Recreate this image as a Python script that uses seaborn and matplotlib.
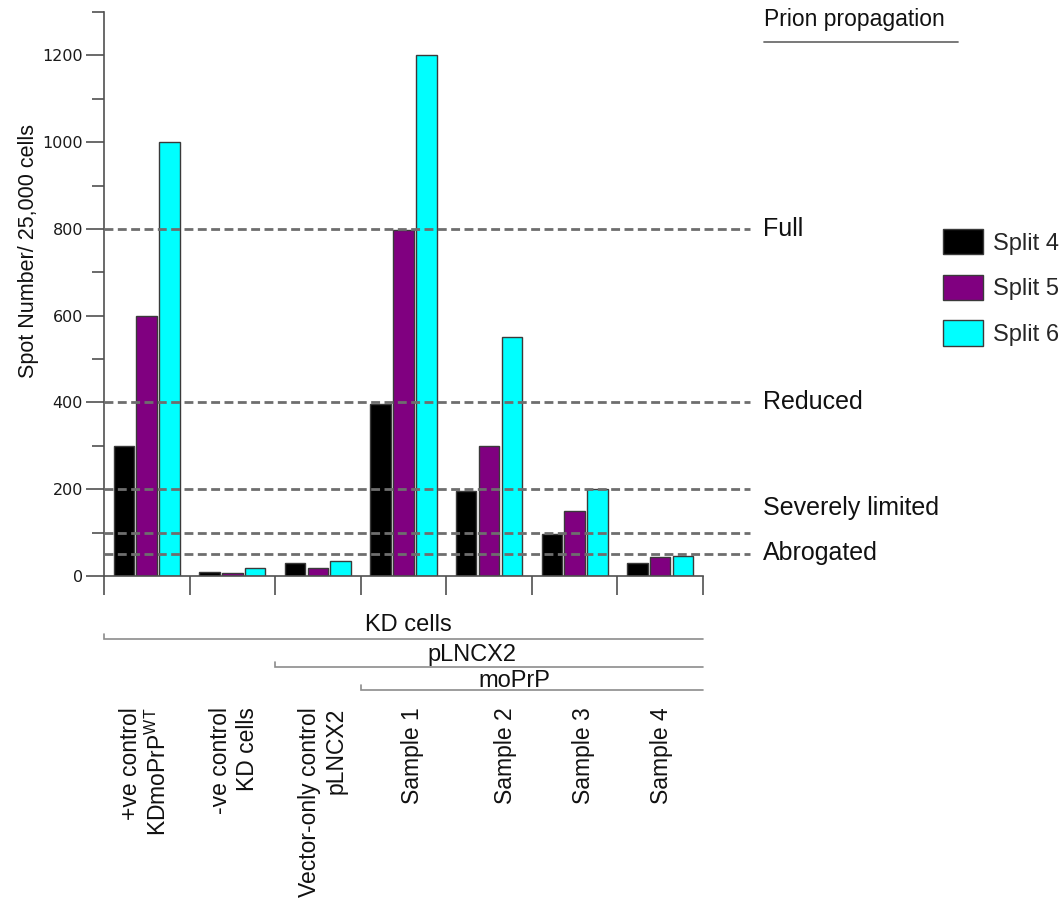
import numpy as np
import pandas as pd
import matplotlib
matplotlib.use("Agg")
import matplotlib.pyplot as plt
from matplotlib.ticker import MultipleLocator
from matplotlib.transforms import blended_transform_factory
import seaborn as sns

# ---- data -------------------------------------------------------------
groups = [
    "+ve control\nKDmoPrP$^{\\mathrm{WT}}$",
    "-ve control\nKD cells",
    "Vector-only control\npLNCX2",
    "Sample 1",
    "Sample 2",
    "Sample 3",
    "Sample 4",
]
splits = ["Split 4", "Split 5", "Split 6"]
split4 = [300, 9, 29, 397, 196, 96, 29]
split5 = [600, 6, 18, 797, 300, 150, 45]
split6 = [1000, 19, 34, 1200, 550, 200, 47]

levels = [800, 400, 200, 100, 50]
level_names = ["Full", "Reduced", "Severely limited", "Abrogated"]
level_label_y = [800, 402, 157, 52]

brackets = ["KD cells", "pLNCX2", "moPrP"]
bracket_start = [0, 2, 3]          # first group covered by each bracket

colors = ["#000000", "#800080", "#00FFFF"]

df = pd.DataFrame({
    "group": np.repeat(groups, 3),
    "split": splits * len(groups),
    "spots": np.ravel(np.column_stack([split4, split5, split6])),
})

# ---- style ------------------------------------------------------------
sns.set_theme(style="ticks")
plt.rcParams["font.family"] = ["Liberation Sans", "DejaVu Sans"]
plt.rcParams["mathtext.fontset"] = "custom"
plt.rcParams["mathtext.rm"] = "Liberation Sans"
plt.rcParams["mathtext.it"] = "Liberation Sans:italic"

axis_col = "#505050"
dash_col = "#6e6e6e"
brk_col = "#8c8c8c"

fig = plt.figure(figsize=(10.64, 9.06), dpi=100)
ax = fig.add_axes([0.0977, 0.3642, 0.563, 0.6226])

sns.barplot(data=df, x="group", y="spots", hue="split", order=groups,
            hue_order=splits, palette=colors, width=0.8, gap=0.1,
            edgecolor="#3a3a3a", linewidth=1.0, saturation=1, ax=ax,
            zorder=2)

ax.set_xlim(-0.5, len(groups) - 0.5)
ax.set_ylim(0, 1300)

# y axis ticks
ax.yaxis.set_major_locator(MultipleLocator(200))
ax.yaxis.set_minor_locator(MultipleLocator(100))
ax.tick_params(axis="y", which="major", length=13, width=1.2, color=axis_col,
               pad=2, labelsize=11.5, labelcolor="#1a1a1a",
               labelfontfamily="DejaVu Sans")
ax.tick_params(axis="y", which="minor", length=8.5, width=1.2, color=axis_col)

# x axis: ticks at group boundaries, labels drawn separately
ax.set_xticks(np.arange(-0.5, len(groups), 1.0))
ax.set_xticklabels([])
ax.tick_params(axis="x", which="major", length=13.5, width=1.2, color=axis_col)
ax.set_xlabel("")

sns.despine(ax=ax)
for s in ("left", "bottom"):
    ax.spines[s].set_color(axis_col)
    ax.spines[s].set_linewidth(1.2)

ax.set_ylabel("Spot Number/ 25,000 cells", fontsize=15.5, color="#111111")
ax.yaxis.set_label_coords(-0.108, 0.576)

# propagation thresholds
for lv in levels:
    ax.axhline(lv, xmin=0, xmax=1.0785, color=dash_col, lw=2,
               linestyle=(0, (3.2, 1.6)), clip_on=False, zorder=3)

for name, yv in zip(level_names, level_label_y):
    ax.text(1.1, yv, name, transform=blended_transform_factory(ax.transAxes, ax.transData),
            fontsize=18, ha="left", va="center", color="#111111")

ax.text(1.102, 0.986, "Prion propagation", transform=ax.transAxes,
        fontsize=16.5, ha="left", va="center", color="#111111")
ax.plot([1.102, 1.4257], [0.9468, 0.9468], transform=ax.transAxes,
        color=dash_col, lw=1.3, clip_on=False)

# legend
handles, labels = ax.get_legend_handles_labels()
ax.legend_.remove() if ax.legend_ else None
fig.legend(handles, labels, loc="upper left",
           bbox_to_anchor=(943 / 1064, 1 - 229 / 906), frameon=False,
           fontsize=17, handlelength=1.69, handleheight=1.27,
           labelspacing=0.85, handletextpad=0.42, borderpad=0,
           borderaxespad=0)

# bracket annotations below the axis
xt = ax.get_xaxis_transform()
bracket_line_y = [-0.1117, -0.1613, -0.2021]
bracket_text_y = [-0.0869, -0.140, -0.186]
bracket_text_x = [3.06, 3.80, 4.30]
for name, start, ly, ty, tx in zip(brackets, bracket_start, bracket_line_y,
                                   bracket_text_y, bracket_text_x):
    x0 = start - 0.5
    x1 = len(groups) - 0.5
    ax.plot([x0, x0, x1], [ly + 0.009, ly, ly], transform=xt, color=brk_col,
            lw=1.2, clip_on=False, solid_joinstyle="miter")
    ax.text(tx, ty, name, transform=xt, fontsize=17, ha="center",
            va="center", color="#111111")

# rotated category labels
label_shift = [-0.02, 0.02, 0.06, 0.1, 0.19, 0.1, 0.02]
for i, (g, dx) in enumerate(zip(groups, label_shift)):
    ax.text(i + dx, -0.233, g, transform=xt, rotation=90, fontsize=16.5,
            ha="center", va="top", multialignment="right",
            linespacing=1.2, color="#111111")

fig.savefig("out.png", dpi=100)
